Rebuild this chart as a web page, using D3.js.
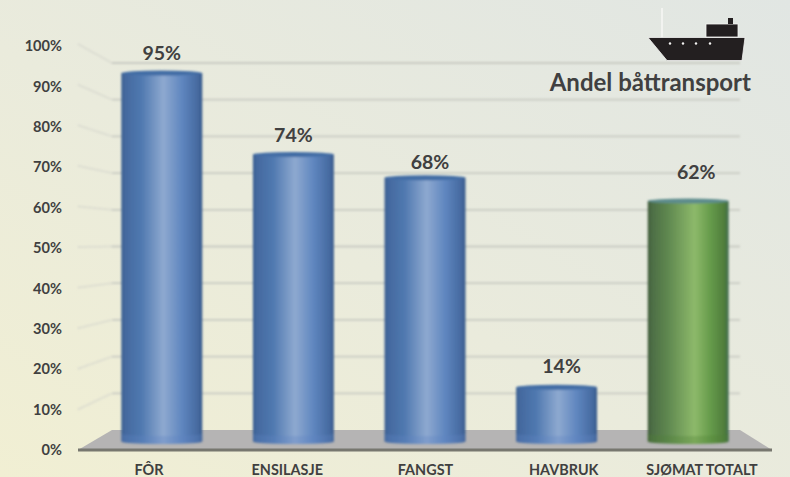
<!DOCTYPE html>
<html>
<head>
<meta charset="utf-8">
<script src="https://cdn.jsdelivr.net/npm/d3@7"></script>
<style>
  html, body { margin: 0; padding: 0; overflow: hidden; }
  svg { display: block; }
  text { font-family: Lato, "Open Sans", sans-serif; font-weight: 700; fill: #404040; }
</style>
</head>
<body>
<svg id="chart" width="790" height="477"></svg>
<script>
const categories = ["FÔR", "ENSILASJE", "FANGST", "HAVBRUK", "SJØMAT TOTALT"];
const values = [95, 74, 68, 14, 62];
const ticks = [0, 10, 20, 30, 40, 50, 60, 70, 80, 90, 100];
const title = "Andel båttransport";

const svg = d3.select("#chart");
const defs = svg.append("defs");

// background fades from yellow (bottom left) to grey (top right)
const bg = defs.append("linearGradient").attr("id", "bg")
    .attr("x1", 0).attr("y1", 1).attr("x2", 1).attr("y2", 0);
bg.append("stop").attr("offset", "0%").attr("stop-color", "#f1efd3");
bg.append("stop").attr("offset", "45%").attr("stop-color", "#eaebdc");
bg.append("stop").attr("offset", "100%").attr("stop-color", "#e1e6e3");

function barGradient(id, stops){
    const g = defs.append("linearGradient").attr("id", id)
        .attr("x1", 0).attr("y1", 0).attr("x2", 1).attr("y2", 0);
    stops.forEach(s => g.append("stop").attr("offset", s[0]).attr("stop-color", s[1]));
}
barGradient("blue", [["0%", "#3a5f90"], ["5%", "#44699f"], ["25%", "#5079b0"], ["52%", "#8ea9d0"], ["75%", "#5f86bf"], ["95%", "#45699f"], ["100%", "#385a8a"]]);
barGradient("green", [["0%", "#3f5c3a"], ["5%", "#4d6e45"], ["25%", "#5f8850"], ["58%", "#8db96a"], ["78%", "#659a4a"], ["95%", "#4f7c3c"], ["100%", "#3f6a50"]]);

const blur = defs.append("filter").attr("id", "soft");
blur.append("feGaussianBlur").attr("stdDeviation", 0.8);

svg.append("rect").attr("width", 790).attr("height", 477).attr("fill", "url(#bg)");

// front and back edge of the 3d box
const yFront = d3.scaleLinear().domain([0, 100]).range([450, 44]);
const yBack = d3.scaleLinear().domain([0, 100]).range([430, 63]);
const yBar = d3.scaleLinear().domain([0, 100]).range([441.5, 53.7]);
const yTick = d3.scaleLinear().domain([0, 100]).range([450, 46]);
const x = d3.scaleBand().domain(categories).range([96, 754]).paddingInner(0.385).paddingOuter(0.1925);
const xLabel = d3.scalePoint().domain(categories).range([149, 702]);

const frontX = 78, backX = 112, backRight = 740, frontRight = 772;

// gridlines
const grid = svg.append("g").attr("filter", "url(#soft)");
grid.selectAll(".back").data(ticks.slice(1)).join("line")
    .attr("class", "back")
    .attr("x1", backX).attr("x2", backRight)
    .attr("y1", d => yBack(d)).attr("y2", d => yBack(d))
    .attr("stroke", "#c9cbc3").attr("stroke-width", 1.8);
grid.selectAll(".side").data(ticks.slice(1)).join("line")
    .attr("class", "side")
    .attr("x1", frontX).attr("x2", backX)
    .attr("y1", d => yFront(d)).attr("y2", d => yBack(d))
    .attr("stroke", "#d4d5cc").attr("stroke-width", 2).attr("stroke-dasharray", "1.5 1");

// floor
svg.append("polygon")
    .attr("points", [[frontX, yFront(0)], [backX, yBack(0)], [backRight, yBack(0)], [frontRight, yFront(0)]].join(" "))
    .attr("fill", "#b5b4b4");
svg.append("line")
    .attr("x1", frontX).attr("x2", frontRight)
    .attr("y1", yFront(0)).attr("y2", yFront(0))
    .attr("stroke", "#77776f").attr("stroke-width", 3);

// cylinders
const capRy = 2.5;
const bars = svg.selectAll(".bar").data(categories).join("g").attr("class", "bar").attr("filter", "url(#soft)");
bars.append("path")
    .attr("fill", (d, i) => i === 4 ? "url(#green)" : "url(#blue)")
    .attr("d", (d, i) => {
        const x0 = x(d), w = x.bandwidth(), top = yBar(values[i]), bottom = yBar(0);
        return `M${x0},${top}V${bottom}A${w / 2},${capRy} 0 0 0 ${x0 + w},${bottom}V${top}Z`;
    });
// lighter band at the foot of each cylinder
bars.append("path")
    .attr("fill", (d, i) => i === 4 ? "#4f8036" : "#5f86c4")
    .attr("fill-opacity", 0.3)
    .attr("d", d => {
        const x0 = x(d), w = x.bandwidth(), bottom = yBar(0), top = bottom - 8;
        return `M${x0},${top}V${bottom}A${w / 2},${capRy} 0 0 0 ${x0 + w},${bottom}V${top}A${w / 2},${capRy} 0 0 1 ${x0},${top}Z`;
    });
bars.append("ellipse")
    .attr("cx", d => x(d) + x.bandwidth() / 2)
    .attr("cy", (d, i) => yBar(values[i]))
    .attr("rx", x.bandwidth() / 2)
    .attr("ry", capRy)
    .attr("fill", (d, i) => i === 4 ? "#5d8c8c" : "#426da5");

// tick labels
svg.selectAll(".tick").data(ticks).join("text")
    .attr("class", "tick")
    .attr("x", 62)
    .attr("y", d => yTick(d))
    .attr("dy", "0.35em")
    .attr("text-anchor", "end")
    .attr("font-size", 14.6)
    .text(d => d + "%");

// value labels, placed by hand in the original so they sit unevenly over the bars
const labelDx = [0, 0, 5, 5, 8];
const labelDy = [20, 19, 16, 21, 29];
svg.selectAll(".value").data(values).join("text")
    .attr("class", "value")
    .attr("x", (d, i) => x(categories[i]) + x.bandwidth() / 2 + labelDx[i])
    .attr("y", (d, i) => yBar(d) - labelDy[i])
    .attr("dy", "0.35em")
    .attr("text-anchor", "middle")
    .attr("font-size", 19.5)
    .text(d => d + "%");

// category labels
svg.selectAll(".cat").data(categories).join("text")
    .attr("class", "cat")
    .attr("x", d => xLabel(d))
    .attr("y", 474.5)
    .attr("text-anchor", "middle")
    .attr("font-size", 14.4)
    .text(d => d);

svg.append("text")
    .attr("x", 751).attr("y", 83)
    .attr("dy", "0.35em")
    .attr("text-anchor", "end")
    .attr("font-size", 24)
    .text(title);

// ship icon
const ship = svg.append("g");
ship.append("line").attr("x1", 662).attr("x2", 662).attr("y1", 8).attr("y2", 38)
    .attr("stroke", "#f7f7f5").attr("stroke-width", 1.5);
ship.append("path").attr("d", "M648,37.5H745L742,60.5H667Z")
    .attr("fill", "#231f20").attr("stroke", "#f4f4f2").attr("stroke-width", 0.8);
ship.append("rect").attr("x", 706).attr("y", 24).attr("width", 32).attr("height", 13)
    .attr("fill", "#231f20").attr("stroke", "#f4f4f2").attr("stroke-width", 0.8);
ship.append("rect").attr("x", 728).attr("y", 18).attr("width", 5).attr("height", 6)
    .attr("fill", "#231f20");
ship.selectAll("circle").data([670, 683, 696, 710]).join("circle")
    .attr("cx", d => d).attr("cy", 43.5).attr("r", 1.2).attr("fill", "#f4f4f2");
</script>
</body>
</html>
